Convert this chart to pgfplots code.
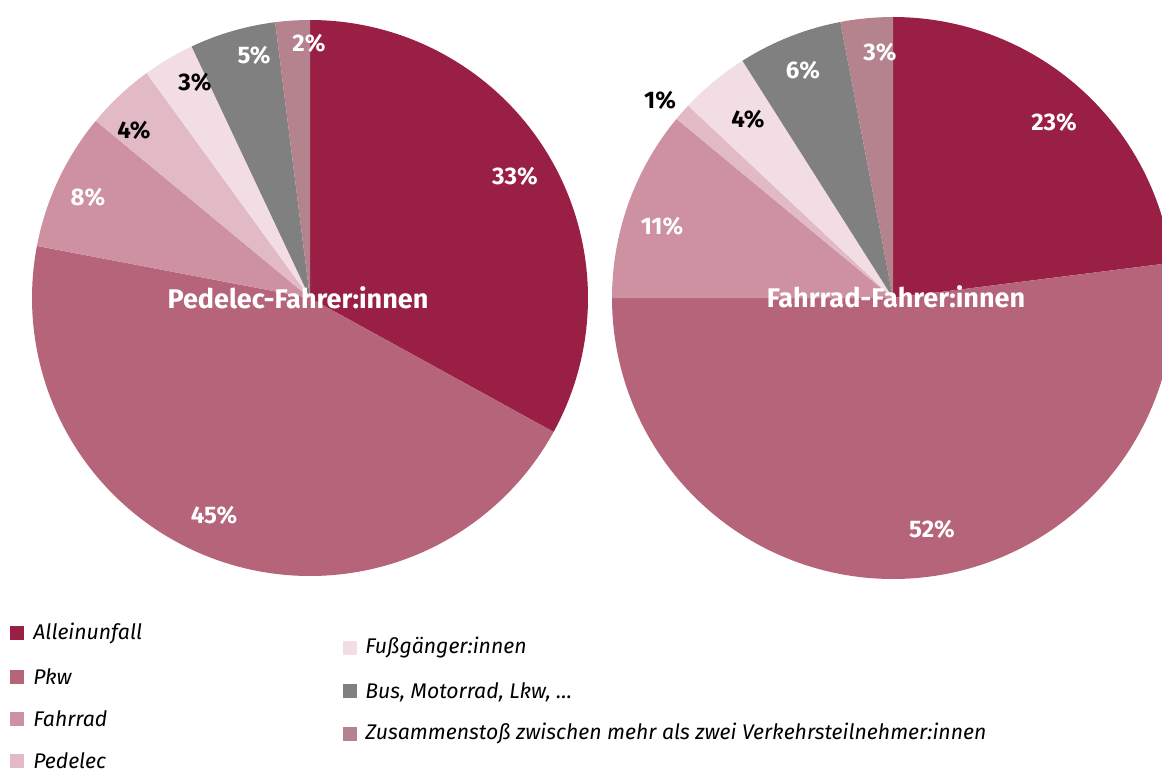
\documentclass[border=0pt]{standalone}
\usepackage{fontspec}
\setmainfont{Fira Sans}
\usepackage{pgfplots}
\usepackage{pgfplotstable}
\pgfplotsset{compat=1.18}

\definecolor{c0}{RGB}{154,31,68}
\definecolor{c1}{RGB}{181,100,122}
\definecolor{c2}{RGB}{206,145,162}
\definecolor{c3}{RGB}{225,186,198}
\definecolor{c4}{RGB}{241,221,227}
\definecolor{c5}{RGB}{128,128,128}
\definecolor{c6}{RGB}{181,131,141}

% shares in percent, clockwise from 12 o'clock
\pgfplotstableread{
cat val
Alleinunfall 33
Pkw 45
Fahrrad 8
Pedelec 4
Fussgaenger 3
Bus 5
Zusammenstoss 2
}\pedelec
\pgfplotstableread{
cat val
Alleinunfall 23
Pkw 52
Fahrrad 11
Pedelec 1
Fussgaenger 4
Bus 6
Zusammenstoss 3
}\fahrrad

\gdef\wedges{}
\newcommand\addwedges[1]{\xdef\wedges{\unexpanded\expandafter{\wedges}#1}}
% #1 table, #2 cx, #3 cy, #4 radius (pixel units, y downwards)
\newcommand\buildpie[4]{%
  \def\acc{0}%
  \pgfplotsforeachungrouped \i in {0,...,6}{%
    \pgfplotstablegetelem{\i}{val}\of{#1}\let\wval\pgfplotsretval
    \pgfmathsetmacro\wa{\acc*3.6}%
    \pgfmathsetmacro\wb{(\acc+\wval)*3.6}%
    \pgfmathtruncatemacro\nst{max(2,\wval*3.6)}%
    \pgfmathsetmacro\wstep{(\wb-\wa)/\nst}%
    \addwedges{\noexpand\fill[c\i] (axis cs:#2,#3)}%
    \foreach \k in {0,...,\nst}{%
      \pgfmathsetmacro\ang{\wa+\wstep*\k}%
      \pgfmathsetmacro\px{#2+#4*sin(\ang)}%
      \pgfmathsetmacro\py{#3-#4*cos(\ang)}%
      \addwedges{ -- (axis cs:\px,\py)}%
    }%
    \addwedges{ -- cycle;}%
    \pgfmathsetmacro\acc{\acc+\wval}%
  }%
}

\begin{document}
\begin{tikzpicture}
\buildpie{\pedelec}{310}{298}{278}
\buildpie{\fahrrad}{893}{298}{281}
\begin{axis}[
    width=581pt, height=386pt, scale only axis,
    xmin=0, xmax=1162, ymin=0, ymax=772,
    y dir=reverse, hide axis,
]
\wedges
% percentages
\begin{scope}[font=\fontsize{12}{14}\selectfont\bfseries]
\node[white] at (axis cs:515,176) {33\%};
\node[white] at (axis cs:214,515) {45\%};
\node[white] at (axis cs:88,197) {8\%};
\node[black] at (axis cs:134,130) {4\%};
\node[black] at (axis cs:195,82) {3\%};
\node[white] at (axis cs:254,55) {5\%};
\node[white] at (axis cs:309,43) {2\%};
\node[white] at (axis cs:1054,122) {23\%};
\node[white] at (axis cs:932,529) {52\%};
\node[white] at (axis cs:662,226) {11\%};
\node[black] at (axis cs:660,100) {1\%};
\node[black] at (axis cs:748,119) {4\%};
\node[white] at (axis cs:803,70) {6\%};
\node[white] at (axis cs:880,52) {3\%};
\end{scope}
\begin{scope}[font=\fontsize{13.5}{15}\selectfont\bfseries]
\node[white] at (axis cs:298,298) {Pedelec-Fahrer:innen};
\node[white] at (axis cs:896,297) {Fahrrad-Fahrer:innen};
\end{scope}
% legend
\begin{scope}[font=\fontsize{10.6}{12}\selectfont\itshape, inner sep=0pt]
\fill[c0] (axis cs:10,626) rectangle (axis cs:24,640);
\node[anchor=west] at (axis cs:33,633) {Alleinunfall};
\fill[c1] (axis cs:10,670) rectangle (axis cs:24,684);
\node[anchor=west] at (axis cs:33,677) {Pkw};
\fill[c2] (axis cs:10,712) rectangle (axis cs:24,726);
\node[anchor=west] at (axis cs:33,719) {Fahrrad};
\fill[c3] (axis cs:10,754) rectangle (axis cs:24,768);
\node[anchor=west] at (axis cs:33,761) {Pedelec};
\fill[c4] (axis cs:343,641) rectangle (axis cs:357,655);
\node[anchor=west] at (axis cs:365,648) {Fußgänger:innen};
\fill[c5] (axis cs:343,684) rectangle (axis cs:357,698);
\node[anchor=west] at (axis cs:365,692) {Bus, Motorrad, Lkw, …};
\fill[c6] (axis cs:343,727) rectangle (axis cs:357,741);
\node[anchor=west] at (axis cs:365,733) {Zusammenstoß zwischen mehr als zwei Verkehrsteilnehmer:innen};
\end{scope}
\end{axis}
\path (current axis.south west) rectangle (current axis.north east);
\end{tikzpicture}
\end{document}
